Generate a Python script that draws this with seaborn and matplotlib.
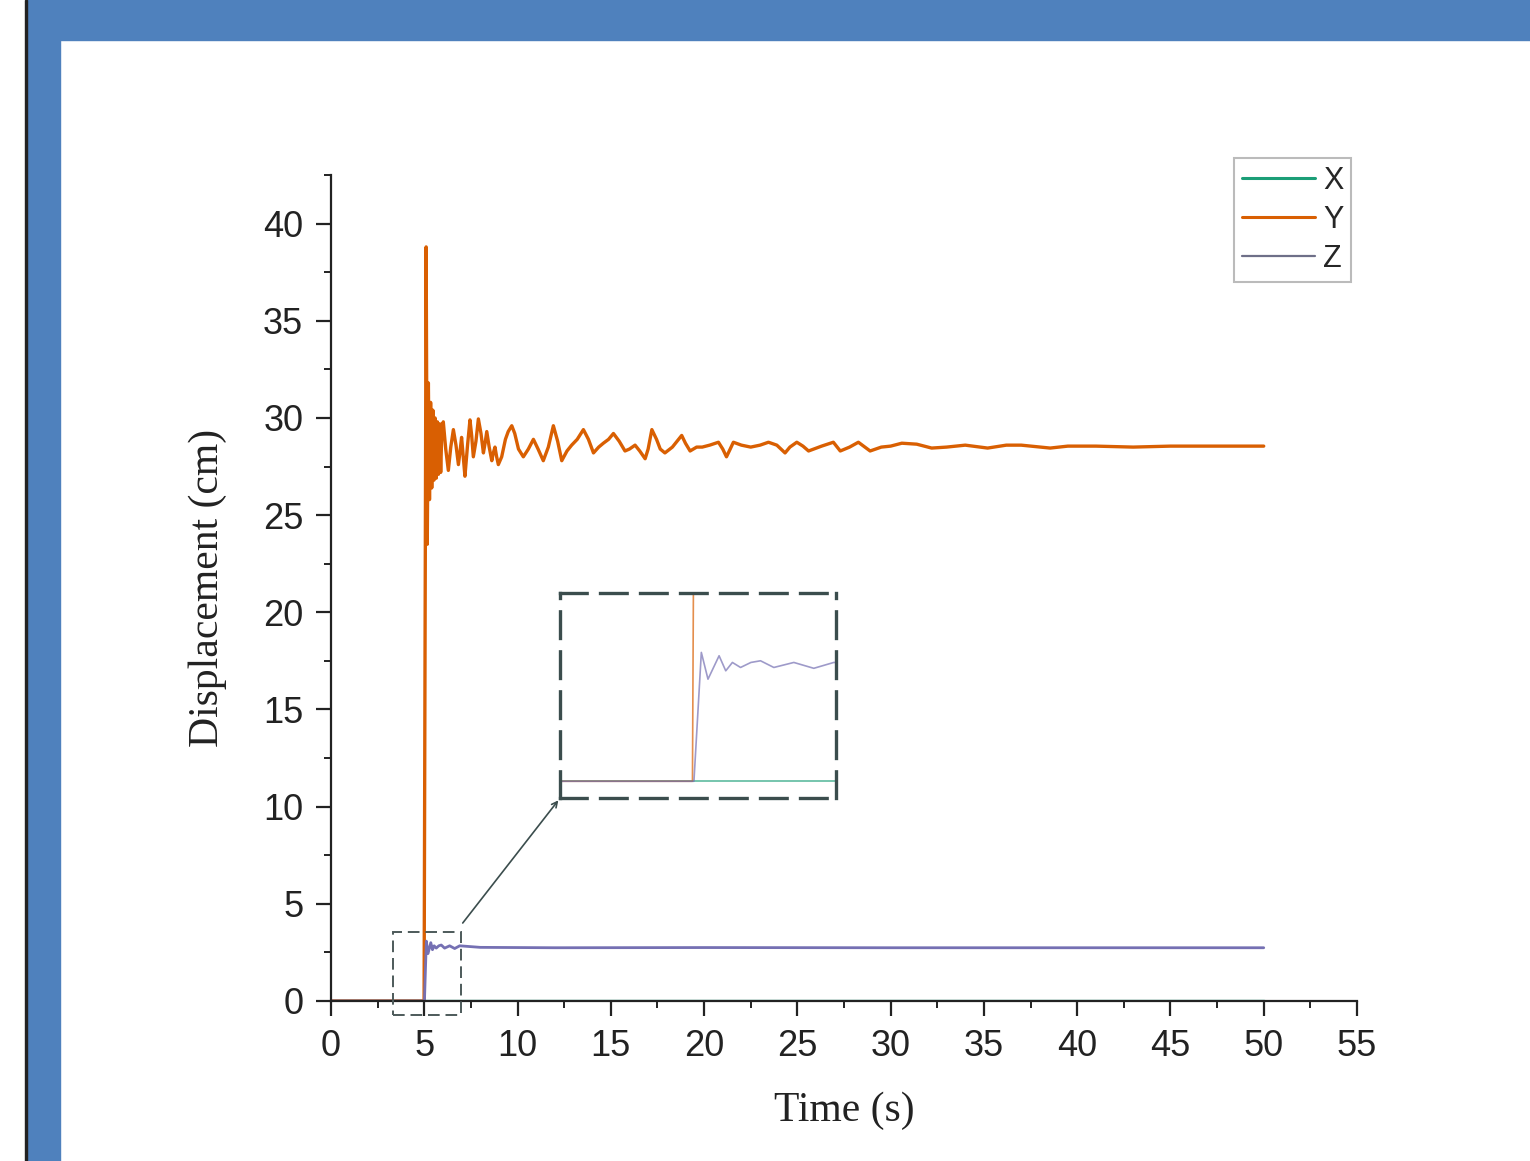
import numpy as np
import pandas as pd
import matplotlib
matplotlib.use('Agg')
import matplotlib.pyplot as plt
from matplotlib.patches import Rectangle
import seaborn as sns

# data
time_x = [0, 50]
disp_x = [0, 0]

time_y = [0, 4.99, 5.10, 5.16, 5.22, 5.28, 5.34, 5.40, 5.46, 5.52, 5.58, 5.64, 5.70,
          5.76, 5.82, 5.88, 5.95, 6.02, 6.15, 6.29, 6.42, 6.56, 6.70, 6.83, 6.92, 7.00,
          7.09, 7.18, 7.32, 7.45, 7.54, 7.63, 7.77, 7.90, 8.04, 8.17, 8.26, 8.35, 8.48,
          8.62, 8.70, 8.79, 8.88, 8.97, 9.15, 9.35, 9.50, 9.69, 9.85, 10.05, 10.31, 10.58,
          10.85, 11.10, 11.38, 11.65, 11.92, 12.15, 12.37, 12.65, 12.90, 13.20, 13.53,
          13.80, 14.07, 14.35, 14.60, 14.88, 15.14, 15.45, 15.76, 16.00, 16.30, 16.55,
          16.84, 17.00, 17.20, 17.45, 17.65, 17.90, 18.30, 18.80, 19.00, 19.25, 19.60,
          19.90, 20.30, 20.77, 21.00, 21.20, 21.40, 21.57, 22.00, 22.50, 23.00, 23.45,
          23.90, 24.34, 24.60, 24.97, 25.30, 25.60, 26.30, 26.93, 27.30, 27.80, 28.27,
          28.90, 29.50, 30.00, 30.60, 31.40, 32.20, 33.00, 34.00, 35.20, 36.20, 37.00,
          38.55, 39.50, 41.00, 43.00, 45.00, 47.50, 50.00]
disp_y = [0, 0, 38.8, 23.5, 31.8, 25.8, 30.8, 26.4, 30.4, 26.8, 30.0, 26.9, 29.8,
          27.1, 29.7, 27.2, 29.6, 29.8, 28.4, 27.3, 28.5, 29.4, 28.6, 27.6, 28.3, 29.0,
          28.0, 27.0, 28.6, 29.9, 29.1, 28.0, 28.8, 29.95, 29.2, 28.2, 28.7, 29.3, 28.5,
          27.8, 28.2, 28.5, 28.0, 27.6, 28.0, 28.9, 29.3, 29.6, 29.2, 28.4, 28.0, 28.4,
          28.9, 28.4, 27.8, 28.5, 29.6, 28.8, 27.8, 28.3, 28.6, 28.9, 29.4,
          28.9, 28.2, 28.5, 28.7, 28.9, 29.2, 28.8, 28.3, 28.4, 28.6, 28.3,
          27.9, 28.4, 29.4, 28.9, 28.4, 28.2, 28.5, 29.1, 28.7, 28.3, 28.5,
          28.5, 28.6, 28.75, 28.4, 28.0, 28.4, 28.75, 28.6, 28.5, 28.6, 28.75,
          28.6, 28.2, 28.5, 28.75, 28.55, 28.3, 28.55, 28.75, 28.3, 28.5, 28.75,
          28.3, 28.5, 28.55, 28.7, 28.65, 28.45, 28.5, 28.6, 28.45, 28.6, 28.6,
          28.45, 28.55, 28.55, 28.5, 28.55, 28.55, 28.55]

time_z = [0, 5.01, 5.11, 5.20, 5.35, 5.44, 5.53, 5.64, 5.78, 5.91, 6.09, 6.36, 6.63,
          6.90, 8.0, 12.0, 20.0, 30.0, 40.0, 50.0]
disp_z = [0, 0, 3.08, 2.44, 3.0, 2.64, 2.84, 2.72, 2.84, 2.88, 2.72, 2.84, 2.70,
          2.84, 2.76, 2.74, 2.75, 2.74, 2.74, 2.74]

labels = ['X', 'Y', 'Z']
colors = ['#1b9e77', '#d95f02', '#7570b3']

df = pd.concat([
    pd.DataFrame({'Time': time_x, 'Disp': disp_x, 'Axis': 'X'}),
    pd.DataFrame({'Time': time_y, 'Disp': disp_y, 'Axis': 'Y'}),
    pd.DataFrame({'Time': time_z, 'Disp': disp_z, 'Axis': 'Z'}),
], ignore_index=True)

sns.set_style('ticks')
plt.rcParams['font.family'] = ['Liberation Sans', 'DejaVu Sans']
plt.rcParams['axes.linewidth'] = 1.6

fig = plt.figure(figsize=(15.3, 11.61), dpi=100)
fig.patch.set_facecolor('white')

# blue page frame
fig.patches.append(Rectangle((27 / 1530, 1 - 40 / 1161), 1, 40 / 1161, transform=fig.transFigure,
                             color='#4f81bd', zorder=0))
fig.patches.append(Rectangle((27 / 1530, 0), 33 / 1530, 1, transform=fig.transFigure,
                             color='#4f81bd', zorder=0))
fig.patches.append(Rectangle((25 / 1530, 0), 2 / 1530, 1, transform=fig.transFigure,
                             color='#222222', zorder=0))

ax = fig.add_axes([331 / 1530, 1 - 1001 / 1161, 1026 / 1530, 826 / 1161])
palette = dict(zip(labels, colors))
sns.lineplot(data=df, x='Time', y='Disp', hue='Axis', palette=palette, estimator=None,
             sort=False, ax=ax, linewidth=2.4, legend=False)
for ln in ax.lines:
    ln.set_solid_joinstyle('round')
ax.lines[2].set_linewidth(2.0)

ax.set_xlim(0, 55)
ax.set_ylim(0, 42.5)
ax.set_xticks(np.arange(0, 56, 5))
ax.set_yticks(np.arange(0, 41, 5))
ax.set_xticks(np.arange(2.5, 55, 5), minor=True)
ax.set_yticks(np.arange(2.5, 43, 5), minor=True)
ax.tick_params(which='major', direction='out', length=11, width=1.6, labelsize=26,
               colors='#222222', pad=9)
ax.tick_params(which='minor', direction='out', length=5, width=1.4, colors='#222222')
sns.despine(ax=ax)
for s in ['left', 'bottom']:
    ax.spines[s].set_color('#222222')

ax.set_xlabel('Time (s)', fontsize=30, family='Liberation Serif', color='#222222', labelpad=20)
ax.set_ylabel('Displacement (cm)', fontsize=30, family='Liberation Serif', color='#222222',
              labelpad=26)

# legend
handles = [plt.Line2D([], [], color=c, lw=2.2) for c in colors]
handles[2].set_color('#6e6f88')
handles[2].set_linewidth(1.6)
leg = fig.legend(handles, labels, loc='upper right', bbox_to_anchor=(1351 / 1530, 1 - 158 / 1161),
                 fontsize=22, handlelength=2.4, handletextpad=0.25, borderpad=0.25,
                 labelspacing=0.3, fancybox=False, frameon=True, borderaxespad=0)
leg.get_frame().set_edgecolor('#aaaaaa')
leg.get_frame().set_linewidth(1.5)

# small dashed box around the step
ax.add_patch(Rectangle((3.3, -0.72), 3.67, 4.27, fill=False, edgecolor='#4d5a5a',
                       linewidth=1.4, linestyle=(0, (6, 3)), clip_on=False, zorder=5))

# inset zoom
axin = ax.inset_axes([229 / 1026, 203 / 826, 276 / 1026, 205 / 826])
sns.lineplot(data=df, x='Time', y='Disp', hue='Axis', palette=palette, estimator=None,
             sort=False, ax=axin, linewidth=1.2, legend=False, alpha=0.7)
axin.set_xlim(3.2, 6.93)
axin.set_ylim(-0.4, 4.5)
axin.set_xticks([])
axin.set_yticks([])
axin.set_xlabel('')
axin.set_ylabel('')
for s in axin.spines.values():
    s.set_visible(True)
    s.set_color('#3b4d4d')
    s.set_linewidth(2.4)
    s.set_linestyle((0, (8, 4)))

ax.annotate('', xy=(12.28, 10.44), xytext=(6.97, 3.9),
            arrowprops=dict(arrowstyle='->', color='#3b4d4d', lw=1.2, mutation_scale=10))

fig.savefig('out.png', dpi=100)
